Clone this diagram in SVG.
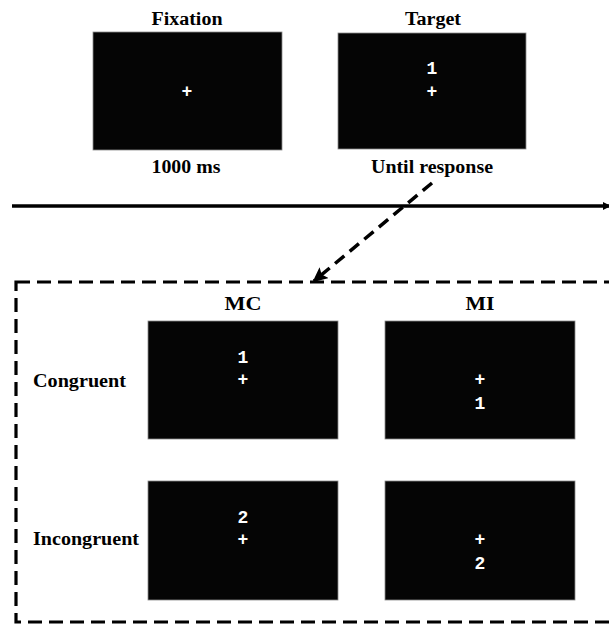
<svg xmlns="http://www.w3.org/2000/svg" width="609" height="624" viewBox="0 0 609 624">
<style>
.scr{fill:#050505;stroke:#8a8a8a;stroke-width:0.8}
.lbl{font-family:"Liberation Serif","Times New Roman",serif;font-weight:bold;font-size:18px;fill:#000}
.dig{font-family:"Liberation Mono","DejaVu Sans Mono",monospace;font-weight:bold;font-size:18px;fill:#fff;text-anchor:middle}
.dash{fill:none;stroke:#000;stroke-width:3.2;stroke-dasharray:14 7}
</style>
<defs>
<marker id="ah" markerWidth="8" markerHeight="8" refX="6" refY="4" orient="auto" markerUnits="userSpaceOnUse">
<path d="M0,0 L8,4 L0,8 Z" fill="#000"/>
</marker>
<marker id="ah2" markerWidth="15" markerHeight="14" refX="13" refY="7" orient="auto" markerUnits="userSpaceOnUse">
<path d="M0,0 L15,7 L0,14 L3,7 Z" fill="#000"/>
</marker>
</defs>
<g id="fixation">
<text class="lbl" x="187" y="25" text-anchor="middle" textLength="71" lengthAdjust="spacingAndGlyphs">Fixation</text>
<rect class="scr" x="93" y="32" width="189" height="118"/>
<text class="dig" x="187" y="97">+</text>
<text class="lbl" x="186" y="173" text-anchor="middle" textLength="69" lengthAdjust="spacingAndGlyphs">1000 ms</text>
</g>
<g id="target">
<text class="lbl" x="433" y="25" text-anchor="middle" textLength="56" lengthAdjust="spacingAndGlyphs">Target</text>
<rect class="scr" x="338" y="33" width="188" height="116"/>
<text class="dig" x="432" y="74">1</text>
<text class="dig" x="432" y="97">+</text>
<text class="lbl" x="432" y="173" text-anchor="middle" textLength="122" lengthAdjust="spacingAndGlyphs">Until response</text>
</g>
<g id="conditions">
<rect class="dash" x="16" y="282" width="620" height="340"/>
<text class="lbl" x="243" y="310" text-anchor="middle" textLength="37" lengthAdjust="spacingAndGlyphs">MC</text>
<text class="lbl" x="480" y="310" text-anchor="middle" textLength="29" lengthAdjust="spacingAndGlyphs">MI</text>
<text class="lbl" x="33" y="387" textLength="93" lengthAdjust="spacingAndGlyphs">Congruent</text>
<text class="lbl" x="33" y="545" textLength="106" lengthAdjust="spacingAndGlyphs">Incongruent</text>
</g>
<g id="mc-congruent">
<rect class="scr" x="148" y="321" width="190" height="118"/>
<text class="dig" x="243" y="363">1</text>
<text class="dig" x="243" y="385">+</text>
</g>
<g id="mi-congruent">
<rect class="scr" x="385" y="321" width="190" height="118"/>
<text class="dig" x="480" y="385">+</text>
<text class="dig" x="480" y="409">1</text>
</g>
<g id="mc-incongruent">
<rect class="scr" x="148" y="481" width="190" height="119"/>
<text class="dig" x="243" y="523">2</text>
<text class="dig" x="243" y="545">+</text>
</g>
<g id="mi-incongruent">
<rect class="scr" x="385" y="481" width="190" height="119"/>
<text class="dig" x="480" y="545">+</text>
<text class="dig" x="480" y="569">2</text>
</g>
<g id="connectors">
<line x1="12" y1="206" x2="609" y2="206" stroke="#000" stroke-width="3.5" marker-end="url(#ah)"/>
<line x1="432" y1="183" x2="314" y2="281" stroke="#000" stroke-width="3.5" stroke-dasharray="12 7" marker-end="url(#ah2)"/>
</g>
</svg>
